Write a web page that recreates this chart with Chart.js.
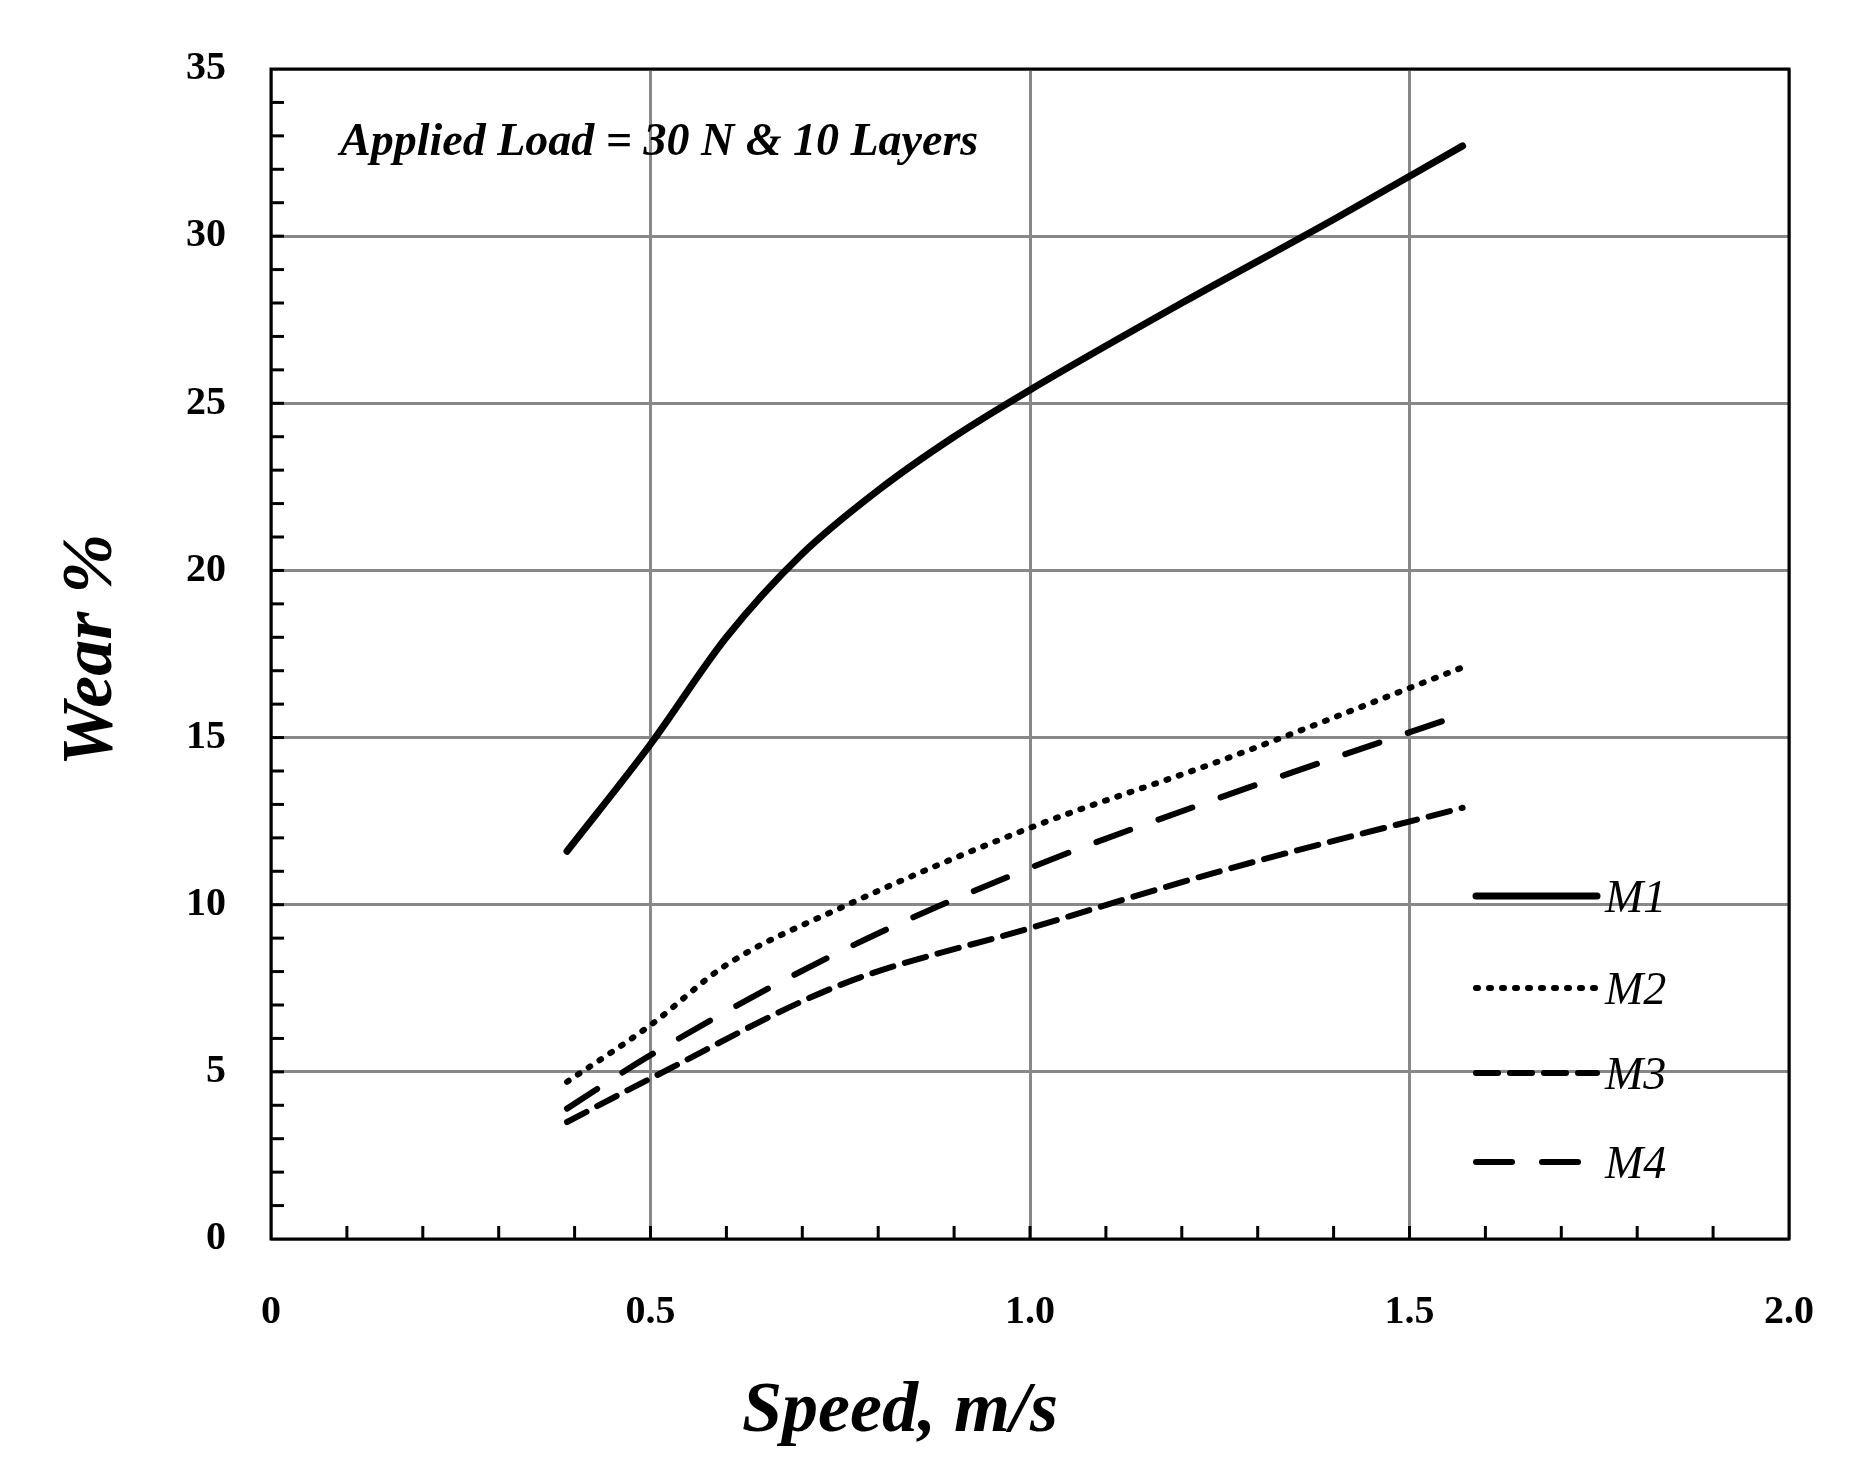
<!DOCTYPE html><html><head><meta charset="utf-8">
<script src="https://cdn.jsdelivr.net/npm/chart.js@4/dist/chart.umd.min.js"></script>
<style>html,body{margin:0;padding:0;background:#fff}#w{width:1873px;height:1484px}</style></head><body>
<div id="w"><canvas id="c"></canvas></div>
<script>
const seriesNames=["M1","M2","M3","M4"];
const m1X=[0.39,0.5,0.6,0.7,0.8,0.9,1.0,1.2,1.4,1.57];
const m1Y=[11.6,14.8,18.0,20.5,22.4,24.0,25.4,28.0,30.5,32.7];
const m2X=[0.39,0.5,0.6,0.75,1.0,1.25,1.57];
const m2Y=[4.7,6.4,8.2,9.9,12.3,14.3,17.1];
const m3X=[0.39,0.5,0.75,1.0,1.25,1.57];
const m3Y=[3.5,4.8,7.6,9.3,11.0,12.9];
const m4X=[0.39,0.5,0.75,1.0,1.25,1.57];
const m4Y=[3.9,5.5,8.6,11.1,13.2,15.7];
const xTicks=[0,0.5,1,1.5,2];
const yTicks=[0,5,10,15,20,25,30,35];
const pts=(xs,ys)=>xs.map((x,i)=>({x,y:ys[i]}));
const dashes=[[],[2,11],[22,12],[36,30]];
const F="'Liberation Serif','Times New Roman',serif";
const ds=[pts(m1X,m1Y),pts(m2X,m2Y),pts(m3X,m3Y),pts(m4X,m4Y)].map((d,i)=>({label:seriesNames[i],data:d,borderColor:'#000',borderWidth:i==0?7:6,borderDash:dashes[i],borderCapStyle:'round',pointRadius:0,cubicInterpolationMode:'monotone',fill:false}));
const deco={id:'deco',afterDraw(c){const x=c.scales.x,y=c.scales.y,g=c.ctx;g.save();
g.strokeStyle='#000';g.lineWidth=3;
for(let v=0.1;v<2;v+=0.1){const p=x.getPixelForValue(v);g.beginPath();g.moveTo(p,y.bottom);g.lineTo(p,y.bottom-13);g.stroke();}
for(let v=1;v<35;v++){const p=y.getPixelForValue(v);g.beginPath();g.moveTo(x.left,p);g.lineTo(x.left+13,p);g.stroke();}
g.strokeRect(x.left,y.top,x.right-x.left,y.bottom-y.top);
g.fillStyle='#000';g.font='italic bold 46px '+F;g.textBaseline='middle';g.textAlign='left';
g.fillText('Applied Load = 30 N & 10 Layers',340,143);
const ly=[896,988,1073,1162];
ds.forEach((d,i)=>{g.setLineDash(d.borderDash);g.lineCap='round';g.lineWidth=d.borderWidth;g.beginPath();g.moveTo(1476,ly[i]);g.lineTo(1597,ly[i]);g.stroke();g.setLineDash([]);
g.font='italic 46px '+F;g.fillText(d.label,1605,ly[i]+4);});
g.font='italic bold 72px '+F;g.textAlign='center';g.fillText('Speed, m/s',900,1412);
g.translate(92,650);g.rotate(-Math.PI/2);g.fillText('Wear %',0,0);
g.restore();}};
new Chart(document.getElementById('c'),{type:'line',data:{datasets:ds},plugins:[deco],
options:{responsive:true,maintainAspectRatio:false,animation:false,
layout:{padding:{top:60,right:84,left:0,bottom:0}},
plugins:{legend:{display:false},tooltip:{enabled:false}},
scales:{x:{type:'linear',min:0,max:2,afterFit(s){s.height=245},afterBuildTicks(s){s.ticks=xTicks.map(v=>({value:v}))},
grid:{color:'#888',lineWidth:3,drawTicks:false},border:{display:false},
ticks:{padding:50,color:'#000',font:{family:F,weight:'bold',size:40},maxRotation:0}},
y:{min:0,max:35,afterFit(s){s.width=271},afterBuildTicks(s){s.ticks=yTicks.map(v=>({value:v}))},
grid:{color:'#888',lineWidth:3,drawTicks:false},border:{display:false},
ticks:{padding:45,color:'#000',font:{family:F,weight:'bold',size:40}}}}}});
</script></body></html>
